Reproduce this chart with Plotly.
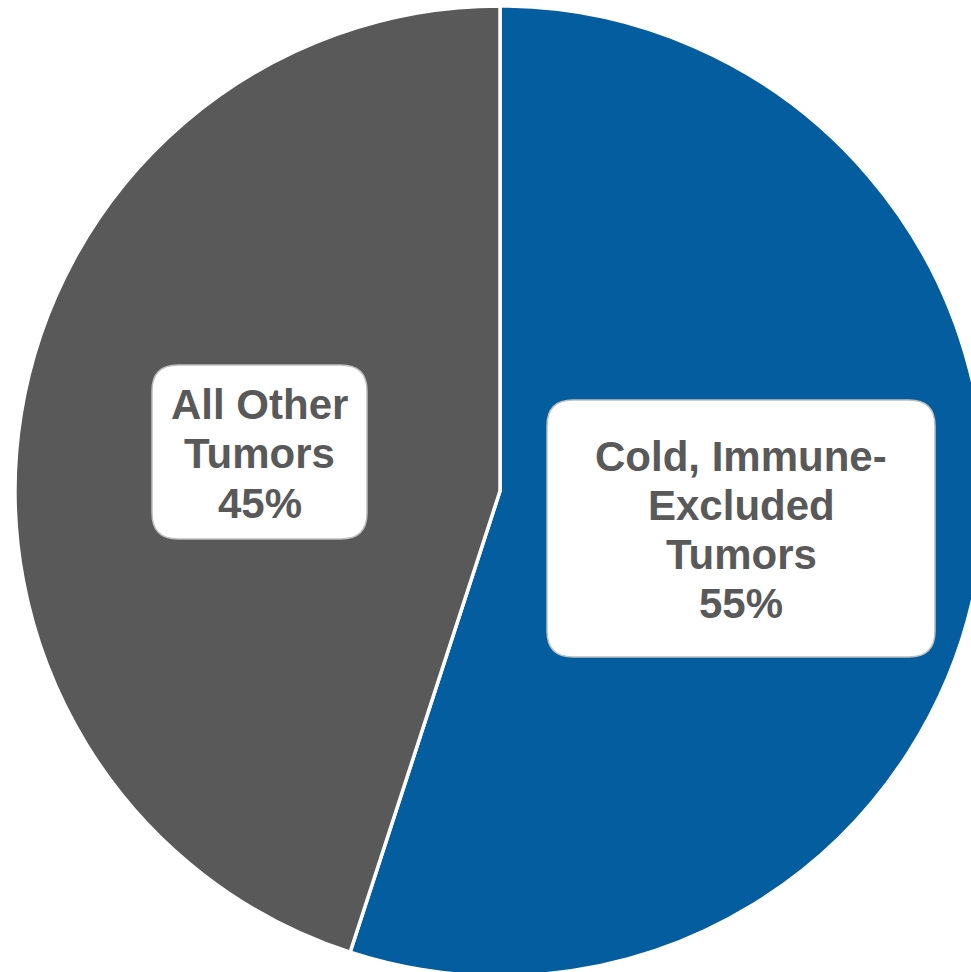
import plotly.graph_objects as go

# Tumor share data
labels = ["Cold, Immune-Excluded Tumors", "All Other Tumors"]
values = [55, 45]
label_lines = [["Cold, Immune-", "Excluded", "Tumors"], ["All Other", "Tumors"]]
colors = ["#045D9F", "#595959"]

# Canvas size in pixels
W, H = 1000, 982


def px(x):
    return x / W


def py(y):
    return 1 - y / H


fig = go.Figure(
    go.Pie(
        labels=labels,
        values=values,
        sort=False,
        direction="clockwise",
        rotation=0,
        marker=dict(colors=colors, line=dict(color="white", width=3.5)),
        textinfo="none",
        hoverinfo="label+percent",
        showlegend=False,
        domain=dict(x=[px(15), px(985)], y=[py(976), py(6)]),
    )
)

# Label boxes: (left, top, right, bottom) in pixels, first text-line centre, line spacing
boxes = [
    dict(box=(547, 400, 935, 657), cx=741, y0=456, dy=49.3),
    dict(box=(152, 365, 367, 539), cx=259.5, y0=404, dy=49.5),
]


def rounded_rect(x0, y0, x1, y1, r):
    pts = [
        f"M {px(x0 + r)},{py(y0)}",
        f"L {px(x1 - r)},{py(y0)}",
        f"Q {px(x1)},{py(y0)} {px(x1)},{py(y0 + r)}",
        f"L {px(x1)},{py(y1 - r)}",
        f"Q {px(x1)},{py(y1)} {px(x1 - r)},{py(y1)}",
        f"L {px(x0 + r)},{py(y1)}",
        f"Q {px(x0)},{py(y1)} {px(x0)},{py(y1 - r)}",
        f"L {px(x0)},{py(y0 + r)}",
        f"Q {px(x0)},{py(y0)} {px(x0 + r)},{py(y0)}",
        "Z",
    ]
    return " ".join(pts)


shapes = []
annotations = []
for lines, val, b in zip(label_lines, values, boxes):
    x0, y0, x1, y1 = b["box"]
    shapes.append(
        dict(
            type="path",
            xref="paper",
            yref="paper",
            path=rounded_rect(x0, y0, x1, y1, 26),
            fillcolor="white",
            line=dict(color="#BFBFBF", width=1.5),
            layer="above",
        )
    )
    for i, t in enumerate(lines + [f"{val}%"]):
        annotations.append(
            dict(
                x=px(b["cx"]),
                y=py(b["y0"] + i * b["dy"]),
                xref="paper",
                yref="paper",
                text=t,
                showarrow=False,
                xanchor="center",
                yanchor="middle",
                font=dict(family="Liberation Sans, Arial", size=42, color="#595959", weight="bold"),
            )
        )

fig.update_layout(
    width=W,
    height=H,
    margin=dict(l=0, r=0, t=0, b=0),
    paper_bgcolor="white",
    plot_bgcolor="white",
    shapes=shapes,
    annotations=annotations,
)

fig.write_html(
    "out.html",
    post_script="document.body.style.margin='0';document.body.style.overflow='hidden';"
    "document.documentElement.style.overflow='hidden';",
)
